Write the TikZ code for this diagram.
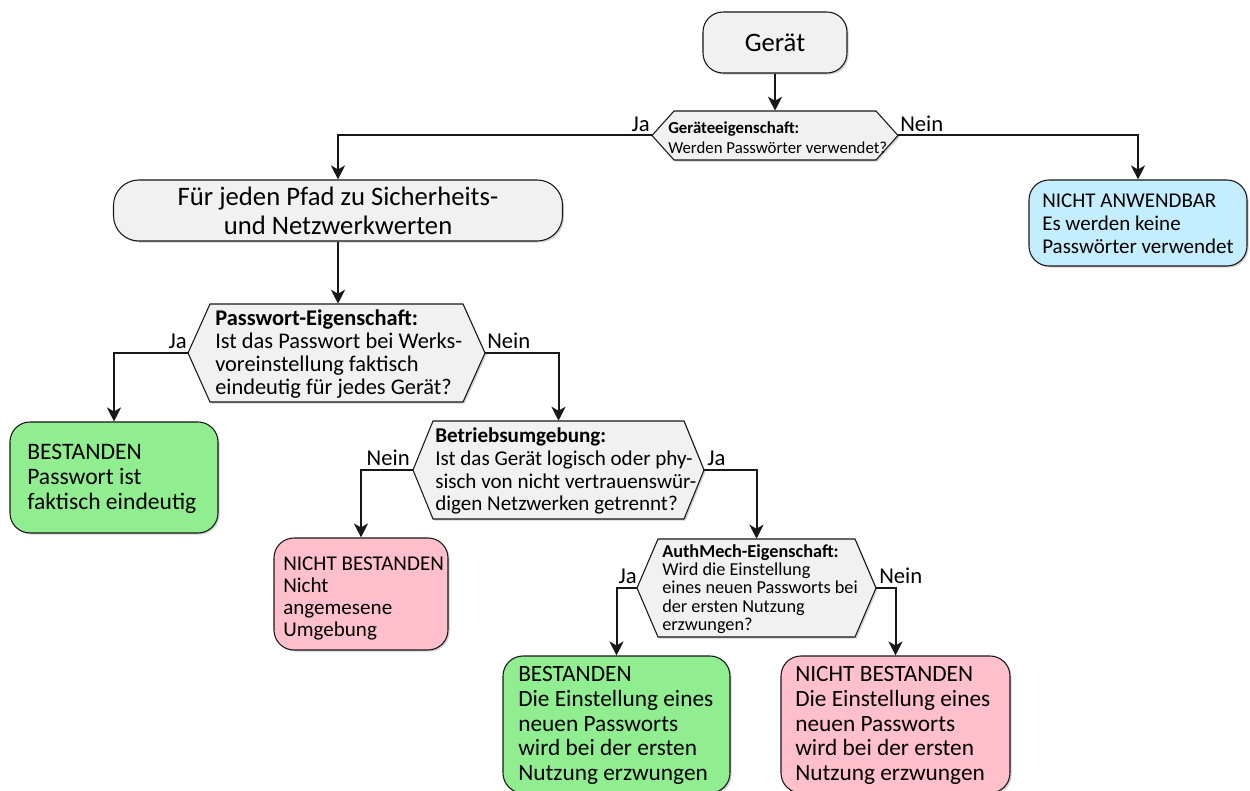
\documentclass[tikz,border=0pt]{standalone}
\usepackage{fontspec}
\setmainfont{Carlito}
\usetikzlibrary{arrows.meta,shadows}

\definecolor{edge}{HTML}{181818}
\definecolor{grayfill}{HTML}{F1F1F1}
\definecolor{passfill}{HTML}{90EE90}
\definecolor{failfill}{HTML}{FFC0CB}
\definecolor{nafill}{HTML}{C4EEFD}

\newcommand\fs[2]{\fontsize{#1}{#2}\selectfont}

\tikzset{
  sz/.style 2 args={minimum width=#1*0.75pt, minimum height=#2*0.75pt},
  softshadow/.style={drop shadow={shadow xshift=1.2pt, shadow yshift=-1.2pt, opacity=0.18, fill=black}},
  term/.style={draw=edge, fill=grayfill, line width=0.8pt, rounded corners=15pt, inner sep=0pt, softshadow},
  result/.style={draw=edge, line width=0.8pt, rounded corners=15pt, inner sep=0pt, softshadow},
  decision/.style={inner sep=0pt, draw=none},
  hexline/.style={draw=edge, fill=grayfill, line width=0.8pt, softshadow},
  txt/.style={inner sep=0pt, align=left, anchor=west, text=black},
  flow/.style={draw=edge, line width=1.5pt, -{Stealth[length=10.5pt, width=10.5pt, inset=3pt]}},
  lbl/.style={inner sep=0pt, font=\fs{17}{19}, text=black},
}

\begin{document}
\begin{tikzpicture}[x=0.75pt, y=-0.75pt]
\useasboundingbox (0,0) rectangle (1250,791);

% --- start ---
\node[term, sz={144}{61}, font=\fs{20}{22}] (start) at (775,42.5) {Gerät};

% --- decision 1: does the device use passwords ---
\node[decision, sz={246}{49}] (d1) at (775,135.5) {};
\draw[hexline] (652,135.5) -- (674,111) -- (876,111) -- (898,135.5) -- (876,160) -- (674,160) -- cycle;
\node[txt, font=\fs{12.6}{15}] (d1t) at (668,137.5)
  {\textbf{Geräteeigenschaft:}\\Werden Passwörter verwendet?};

% --- loop box ---
\node[term, rounded corners=19pt, sz={449}{61}, align=center, font=\fs{20}{21.75}] (b2) at (338,210.5)
  {Für jeden Pfad zu Sicherheits-\\und Netzwerkwerten};

% --- not applicable ---
\node[result, fill=nafill, sz={218}{86}] (b3) at (1138,223) {};
\node[txt, font=\fs{15.75}{17.25}] (b3t) at (1042,224)
  {NICHT ANWENDBAR\\Es werden keine\\Passwörter verwendet};

% --- decision 2: factory default password unique ---
\node[decision, sz={296}{98}] (d2) at (337,353) {};
\draw[hexline] (188,353) -- (210,304) -- (463,304) -- (485,353) -- (463,402) -- (210,402) -- cycle;
\node[txt, font=\fs{16.8}{17.4}] (d2t) at (215,354)
  {\textbf{Passwort-Eigenschaft:}\\Ist das Passwort bei Werks-\\voreinstellung faktisch\\eindeutig für jedes Gerät?};

% --- pass: unique password ---
\node[result, fill=passfill, sz={208}{111}] (b4) at (114,477.5) {};
\node[txt, font=\fs{17.7}{18.75}] (b4t) at (27,478.5)
  {BESTANDEN\\Passwort ist\\faktisch eindeutig};

% --- decision 3: operating environment ---
\node[decision, sz={291}{98}] (d3) at (558.5,470) {};
\draw[hexline] (413,470) -- (433,421) -- (684,421) -- (704,470) -- (684,519) -- (433,519) -- cycle;
\node[txt, font=\fs{15.8}{17.2}] (d3t) at (435,471)
  {\textbf{Betriebsumgebung:}\\Ist das Gerät logisch oder phy-\\sisch von nicht vertrauenswür-\\digen Netzwerken getrennt?};

% --- fail: environment ---
\node[result, fill=failfill, sz={174}{112}] (b5) at (361,594) {};
\node[txt, font=\fs{15.8}{16.5}] (b5t) at (283,598)
  {NICHT BESTANDEN\\Nicht\\angemesene\\Umgebung};

% --- decision 4: authentication mechanism ---
\node[decision, sz={239}{98}] (d4) at (756.5,588) {};
\draw[hexline] (637,588) -- (658,539) -- (855,539) -- (876,588) -- (855,637) -- (658,637) -- cycle;
\node[txt, font=\fs{13.7}{13.75}] (d4t) at (662,589)
  {\textbf{AuthMech-Eigenschaft:}\\Wird die Einstellung\\eines neuen Passworts bei\\der ersten Nutzung\\erzwungen?};

% --- pass / fail on first-use password change ---
\node[result, fill=passfill, sz={227}{137}] (b6) at (616.5,724.5) {};
\node[txt, font=\fs{17.5}{18.5}] (b6t) at (518,725.5)
  {BESTANDEN\\Die Einstellung eines\\neuen Passworts\\wird bei der ersten\\Nutzung erzwungen};
\node[result, fill=failfill, sz={229}{137}] (b7) at (895.5,724.5) {};
\node[txt, font=\fs{17.5}{18.5}] (b7t) at (795,725.5)
  {NICHT BESTANDEN\\Die Einstellung eines\\neuen Passworts\\wird bei der ersten\\Nutzung erzwungen};

% --- connectors ---
\draw[flow] (start.south) -- (d1.north);
\draw[flow] (d1.west) -| (b2.north);
\draw[flow] (d1.east) -| (b3.north);
\draw[flow] (b2.south) -- (b2.south |- d2.north);
\draw[flow] (d2.west) -| (b4.north);
\draw[flow] (d2.east) -| (d3.north);
\draw[flow] (d3.west) -| (b5.north);
\draw[flow] (d3.east) -| (d4.north);
\draw[flow] (d4.west) -| (b6.north);
\draw[flow] (d4.east) -| (b7.north);

% --- branch labels ---
\node[lbl, anchor=base east] (l1j) at (650,132) {Ja};
\node[lbl, anchor=base west] (l1n) at (900,132) {Nein};
\node[lbl, anchor=base east] (l2j) at (187,349) {Ja};
\node[lbl, anchor=base west] (l2n) at (487,349) {Nein};
\node[lbl, anchor=base east] (l3n) at (410,466) {Nein};
\node[lbl, anchor=base west] (l3j) at (707,466) {Ja};
\node[lbl, anchor=base east] (l4j) at (637,583) {Ja};
\node[lbl, anchor=base west] (l4n) at (879,583) {Nein};
\end{tikzpicture}
\end{document}
